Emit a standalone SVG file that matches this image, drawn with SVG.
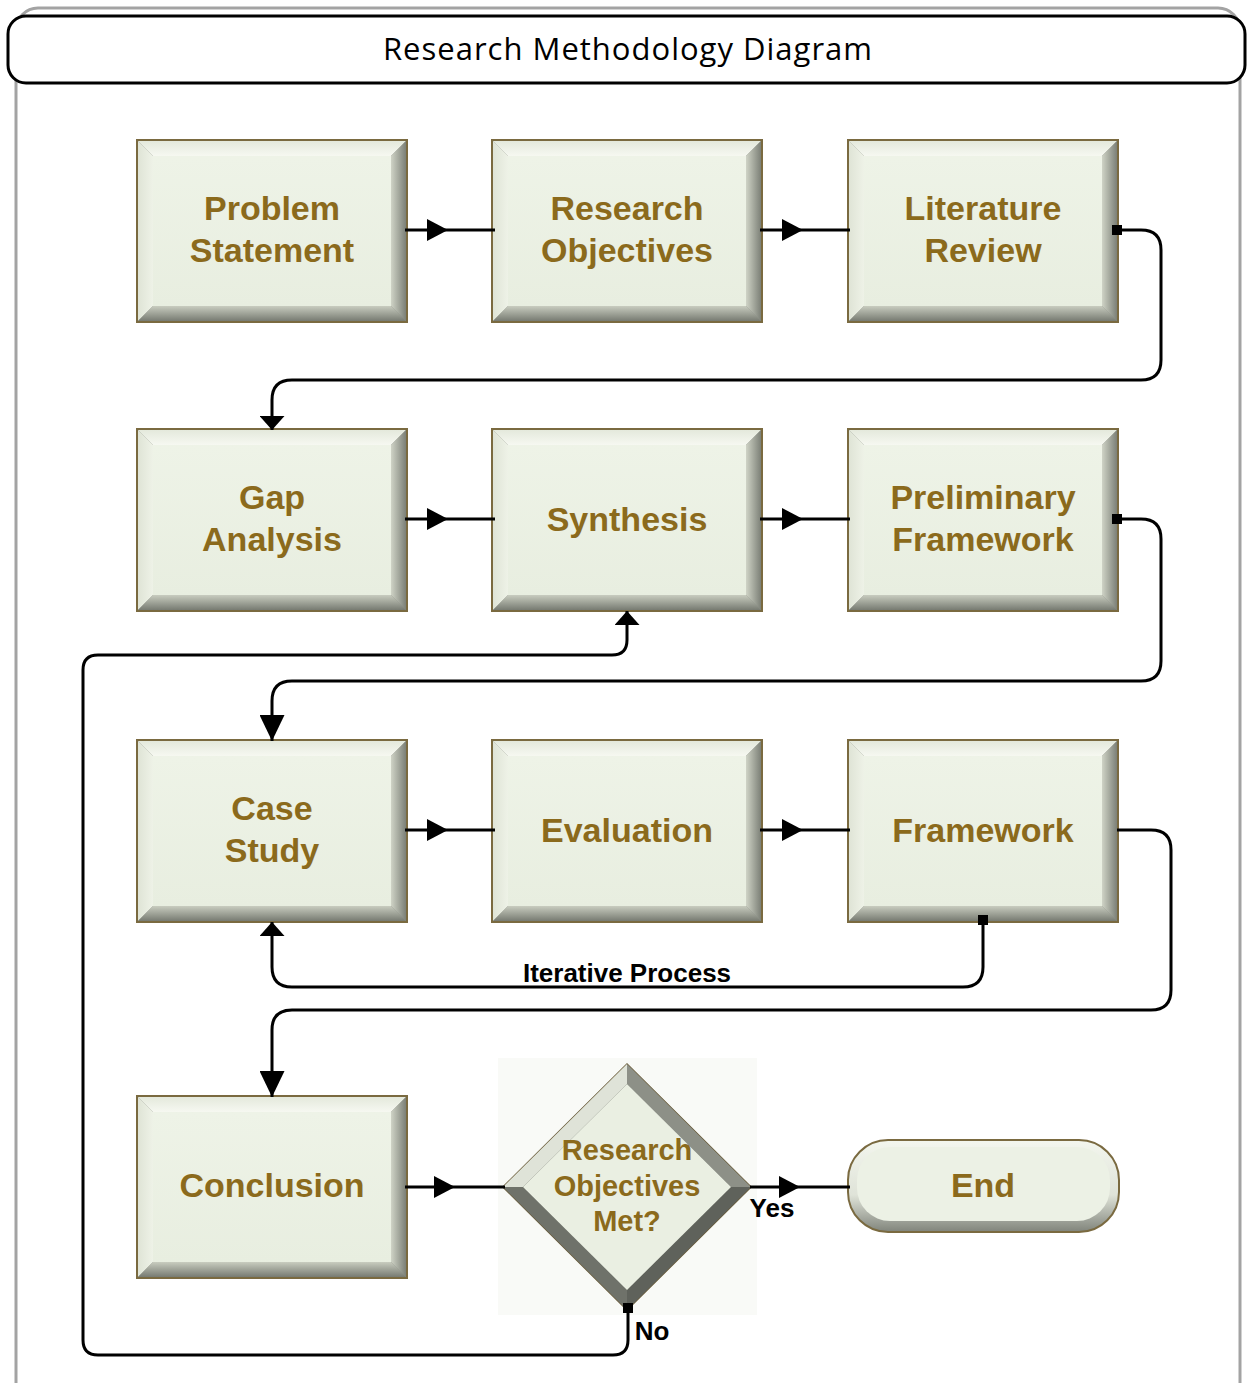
<svg xmlns="http://www.w3.org/2000/svg" xmlns:xlink="http://www.w3.org/1999/xlink" width="1247" height="1383" viewBox="0 0 1247 1383">
<style>
.lbl{font-family:"Liberation Sans",Arial,sans-serif;font-weight:bold;font-size:34px;fill:#8B6A1C;text-anchor:middle}
.dl{font-family:"Liberation Sans",Arial,sans-serif;font-weight:bold;font-size:29px;fill:#8B6A1C;text-anchor:middle}
.ct{font-family:"Liberation Sans",Arial,sans-serif;font-weight:bold;font-size:26px;fill:#000}
.cn{fill:none;stroke:#000;stroke-width:3}
</style>
<defs>
<linearGradient id="gR" x1="0" y1="0" x2="1" y2="0"><stop offset="0" stop-color="#cfd3c6"/><stop offset="1" stop-color="#7c8077"/></linearGradient>
<linearGradient id="gB" x1="0" y1="0" x2="0" y2="1"><stop offset="0" stop-color="#c8ccbf"/><stop offset="1" stop-color="#777b72"/></linearGradient>
<linearGradient id="gT" x1="0" y1="0" x2="0" y2="1"><stop offset="0" stop-color="#e4e9dc"/><stop offset="1" stop-color="#f6f8f1"/></linearGradient>
<linearGradient id="gL" x1="0" y1="0" x2="1" y2="0"><stop offset="0" stop-color="#dfe4d6"/><stop offset="1" stop-color="#eef2e7"/></linearGradient>
<linearGradient id="gF" x1="0" y1="0" x2="0" y2="1"><stop offset="0" stop-color="#eef3e7"/><stop offset="1" stop-color="#e8eee0"/></linearGradient>
<linearGradient id="gE" x1="0" y1="0" x2="0" y2="1"><stop offset="0" stop-color="#f3f6ee"/><stop offset="0.6" stop-color="#dfe3d8"/><stop offset="1" stop-color="#80847b"/></linearGradient>
<g id="box">
<rect x="0" y="0" width="270" height="182" fill="#8a8d84" stroke="#7a6a40" stroke-width="2"/>
<polygon points="1,1 269,1 254,16 16,16" fill="url(#gT)"/>
<polygon points="1,1 16,16 16,166 1,181" fill="url(#gL)"/>
<polygon points="269,1 269,181 254,166 254,16" fill="url(#gR)"/>
<polygon points="1,181 16,166 254,166 269,181" fill="url(#gB)"/>
<rect x="16" y="16" width="238" height="150" fill="url(#gF)"/>
</g>
<marker id="aM" markerUnits="userSpaceOnUse" markerWidth="22" markerHeight="22" refX="21" refY="11" orient="auto"><path d="M0,0 L21,11 L0,22 z" fill="#000"/></marker>
<marker id="aS" markerUnits="userSpaceOnUse" markerWidth="14" markerHeight="25" refX="14" refY="12.5" orient="auto"><path d="M0,0 L14,12.5 L0,25 z" fill="#000"/></marker>
<marker id="aL" markerUnits="userSpaceOnUse" markerWidth="26" markerHeight="25" refX="26" refY="12.5" orient="auto"><path d="M0,0 L26,12.5 L0,25 z" fill="#000"/></marker>
<marker id="sq" markerUnits="userSpaceOnUse" markerWidth="10" markerHeight="10" refX="5" refY="5"><rect width="10" height="10" fill="#000"/></marker>
</defs>
<rect x="16" y="8" width="1224" height="1400" rx="22" fill="#fff" stroke="#a3a3a3" stroke-width="3"/>
<g id="title">
<rect x="8" y="16" width="1237" height="67" rx="18" fill="#fff" stroke="#000" stroke-width="3"/>
<text x="628" y="60" font-family="'Open Sans','Liberation Sans',sans-serif" font-size="31" letter-spacing="1" fill="#000" text-anchor="middle">Research Methodology Diagram</text>
</g>
<g id="n-problem"><use xlink:href="#box" x="137" y="140"/><text class="lbl" x="272" y="220">Problem</text><text class="lbl" x="272" y="262">Statement</text></g>
<g id="n-objectives"><use xlink:href="#box" x="492" y="140"/><text class="lbl" x="627" y="220">Research</text><text class="lbl" x="627" y="262">Objectives</text></g>
<g id="n-literature"><use xlink:href="#box" x="848" y="140"/><text class="lbl" x="983" y="220">Literature</text><text class="lbl" x="983" y="262">Review</text></g>
<g id="n-gap"><use xlink:href="#box" x="137" y="429"/><text class="lbl" x="272" y="509">Gap</text><text class="lbl" x="272" y="551">Analysis</text></g>
<g id="n-synthesis"><use xlink:href="#box" x="492" y="429"/><text class="lbl" x="627" y="531">Synthesis</text></g>
<g id="n-prelim"><use xlink:href="#box" x="848" y="429"/><text class="lbl" x="983" y="509">Preliminary</text><text class="lbl" x="983" y="551">Framework</text></g>
<g id="n-case"><use xlink:href="#box" x="137" y="740"/><text class="lbl" x="272" y="820">Case</text><text class="lbl" x="272" y="862">Study</text></g>
<g id="n-eval"><use xlink:href="#box" x="492" y="740"/><text class="lbl" x="627" y="842">Evaluation</text></g>
<g id="n-framework"><use xlink:href="#box" x="848" y="740"/><text class="lbl" x="983" y="842">Framework</text></g>
<g id="n-conclusion"><use xlink:href="#box" x="137" y="1096"/><text class="lbl" x="272" y="1197">Conclusion</text></g>
<g id="n-decision">
<rect x="498" y="1058" width="259" height="257" fill="#f9faf7"/>
<polygon points="627,1064 751,1187 627,1310 503,1187" fill="#5e6059" stroke="#6a5c3a" stroke-width="1.5"/>
<polygon points="627,1064 503,1187 523,1187 627,1084" fill="#dfe3d8"/>
<polygon points="627,1064 751,1187 731,1187 627,1084" fill="#8d9087"/>
<polygon points="503,1187 627,1310 627,1290 523,1187" fill="#6f726a"/>
<polygon points="751,1187 627,1310 627,1290 731,1187" fill="#5f625b"/>
<polygon points="627,1084 731,1187 627,1290 523,1187" fill="#eaefe2"/>
<text class="dl" x="627" y="1160">Research</text><text class="dl" x="627" y="1196">Objectives</text><text class="dl" x="627" y="1231">Met?</text>
</g>
<g id="n-end">
<rect x="848" y="1140" width="271" height="92" rx="40" fill="url(#gE)" stroke="#7a6a40" stroke-width="2"/>
<rect x="857" y="1147" width="253" height="74" rx="33" fill="#ecf1e5"/>
<text class="lbl" x="983" y="1197">End</text>
</g>
<g id="connectors">
<path class="cn" d="M405,230 H448" marker-end="url(#aM)"/><path class="cn" d="M448,230 H495"/>
<path class="cn" d="M760,230 H803" marker-end="url(#aM)"/><path class="cn" d="M803,230 H850"/>
<path class="cn" d="M1117,230 H1141 Q1161,230 1161,250 V360 Q1161,380 1141,380 H292 Q272,380 272,400 V430" marker-start="url(#sq)" marker-end="url(#aS)"/>
<path class="cn" d="M405,519 H448" marker-end="url(#aM)"/><path class="cn" d="M448,519 H495"/>
<path class="cn" d="M760,519 H803" marker-end="url(#aM)"/><path class="cn" d="M803,519 H850"/>
<path class="cn" d="M1117,519 H1141 Q1161,519 1161,539 V661 Q1161,681 1141,681 H292 Q272,681 272,701 V741" marker-start="url(#sq)" marker-end="url(#aL)"/>
<path class="cn" d="M405,830 H448" marker-end="url(#aM)"/><path class="cn" d="M448,830 H495"/>
<path class="cn" d="M760,830 H803" marker-end="url(#aM)"/><path class="cn" d="M803,830 H850"/>
<path class="cn" d="M1117,830 H1151 Q1171,830 1171,850 V990 Q1171,1010 1151,1010 H292 Q272,1010 272,1030 V1097" marker-end="url(#aL)"/>
<path class="cn" d="M983,920 V967 Q983,987 963,987 H292 Q272,987 272,967 V922" marker-start="url(#sq)" marker-end="url(#aS)"/>
<text class="ct" x="627" y="982" text-anchor="middle">Iterative Process</text>
<path class="cn" d="M405,1187 H455" marker-end="url(#aM)"/><path class="cn" d="M455,1187 H505"/>
<path class="cn" d="M750,1187 H800" marker-end="url(#aM)"/><path class="cn" d="M800,1187 H850"/>
<text class="ct" x="772" y="1217" text-anchor="middle" font-size="24">Yes</text>
<path class="cn" d="M628,1308 V1340 Q628,1355 613,1355 H98 Q83,1355 83,1340 V670 Q83,655 98,655 H612 Q627,655 627,640 V611" marker-start="url(#sq)" marker-end="url(#aS)"/>
<text class="ct" x="652" y="1340" text-anchor="middle" font-size="24">No</text>
</g>
</svg>
